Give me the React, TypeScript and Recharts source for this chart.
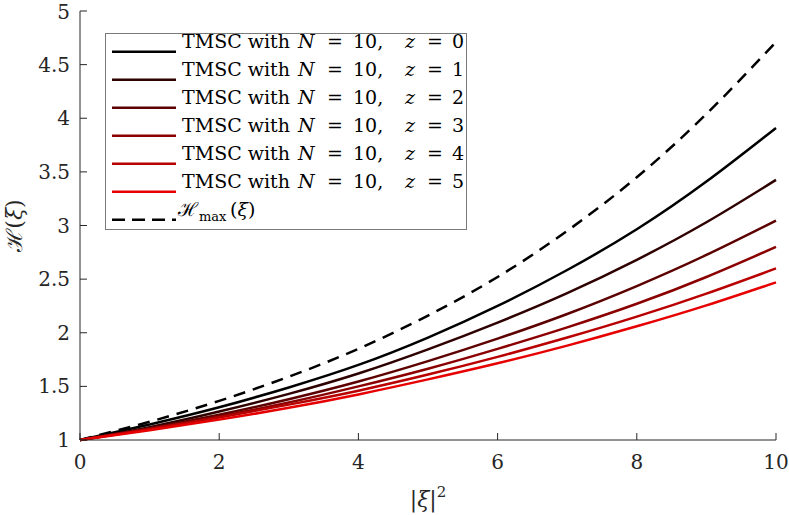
import React from "react";
import { LineChart, Line, XAxis, YAxis, Legend, Label } from "recharts";

// |xi|^2 sample points
const xi2 = [0, 1, 2, 3, 4, 5, 6, 7, 8, 9, 10];

// TMSC with N = 10, one curve per z
const hZ0 = [1, 1.145, 1.305, 1.49, 1.7, 1.955, 2.25, 2.585, 2.965, 3.41, 3.91];
const hZ1 = [1, 1.12, 1.265, 1.43, 1.62, 1.845, 2.095, 2.37, 2.68, 3.03, 3.425];
const hZ2 = [1, 1.11, 1.235, 1.38, 1.545, 1.735, 1.945, 2.175, 2.435, 2.725, 3.045];
const hZ3 = [1, 1.105, 1.22, 1.35, 1.5, 1.665, 1.85, 2.05, 2.27, 2.52, 2.8];
const hZ4 = [1, 1.1, 1.21, 1.33, 1.46, 1.61, 1.775, 1.955, 2.15, 2.365, 2.6];
const hZ5 = [1, 1.09, 1.19, 1.3, 1.425, 1.565, 1.715, 1.88, 2.06, 2.255, 2.47];

// upper bound
const hMax = [1, 1.17, 1.365, 1.59, 1.85, 2.16, 2.52, 2.95, 3.45, 4.04, 4.71];

const xTicks = [0, 2, 4, 6, 8, 10];
const yTicks = [1, 1.5, 2, 2.5, 3, 3.5, 4, 4.5, 5];

const zValues = [0, 1, 2, 3, 4, 5];
const zColors = ["#000000", "#2e0000", "#5c0000", "#8a0000", "#b80000", "#e60000"];
const curves = [hZ0, hZ1, hZ2, hZ3, hZ4, hZ5];

const rows = xi2.map((x, i) => {
  const row: Record<string, number> = { x, hmax: hMax[i] };
  curves.forEach((c, k) => {
    row[`z${k}`] = c[i];
  });
  return row;
});

const FONT = "DejaVu Serif";
const AX = "#262626";

function LegendBox() {
  return (
    <svg width={362} height={198} style={{ display: "block" }}>
      <rect x={0.5} y={0.5} width={361} height={196} fill="#fff" stroke="#7a7a7a" strokeWidth={1} />
      {zValues.map((z, i) => {
        const y = 18.7 + 28 * i;
        return (
          <g key={z}>
            <line x1={7} x2={71} y1={y} y2={y} stroke={zColors[i]} strokeWidth={2.5} />
            <text y={y - 3.4} fontFamily={FONT} fontSize={19} fill="#000">
              <tspan x={77}>TMSC with</tspan>
              <tspan x={193} fontStyle="italic">N</tspan>
              <tspan x={222}>=</tspan>
              <tspan x={248}>10,</tspan>
              <tspan x={300} fontStyle="italic">z</tspan>
              <tspan x={322}>=</tspan>
              <tspan x={347}>{z}</tspan>
            </text>
          </g>
        );
      })}
      <line x1={7} x2={71} y1={186.7} y2={186.7} stroke="#000" strokeWidth={2.5} strokeDasharray="13 7" />
      <text y={183.3} fontFamily={FONT} fontSize={19} fill="#000">
        <tspan x={73}>ℋ</tspan>
        <tspan x={94} dy={5} fontSize={13}>max</tspan>
        <tspan x={125} dy={-5}>(</tspan>
        <tspan fontStyle="italic">ξ</tspan>
        <tspan>)</tspan>
      </text>
    </svg>
  );
}

function YTitle(props: any) {
  const vb = props.viewBox;
  const cx = vb.x + 14;
  const cy = vb.y + vb.height / 2;
  return (
    <text
      x={cx}
      y={cy}
      transform={`rotate(-90 ${cx} ${cy})`}
      textAnchor="middle"
      dominantBaseline="central"
      fontFamily={FONT}
      fontSize={22}
      fill={AX}
    >
      ℋ(<tspan fontStyle="italic">ξ</tspan>)
    </text>
  );
}

function XTitle(props: any) {
  const vb = props.viewBox;
  return (
    <text x={vb.x + vb.width / 2} y={vb.y + 67} textAnchor="middle" fontFamily={FONT} fontSize={22} fill={AX}>
      |<tspan fontStyle="italic">ξ</tspan>|<tspan dy={-10} fontSize={15}>2</tspan>
    </text>
  );
}

export default function App() {
  const tickStyle = { fill: AX, fontSize: 20, fontFamily: FONT };
  return (
    <div style={{ position: "absolute", left: 0, top: 0, background: "#fff" }}>
      <LineChart width={789} height={515} data={rows} margin={{ top: 11, right: 13, bottom: 0, left: 0 }}>
        <XAxis
          dataKey="x"
          type="number"
          domain={[0, 10]}
          ticks={xTicks}
          height={75}
          tickSize={-7}
          tickMargin={22}
          stroke={AX}
          tick={tickStyle}
        >
          <Label content={XTitle} />
        </XAxis>
        <XAxis
          xAxisId="top"
          orientation="top"
          dataKey="x"
          type="number"
          domain={[0, 10]}
          ticks={xTicks}
          height={0}
          tickSize={-7}
          stroke={AX}
          tickFormatter={() => ""}
        />
        <YAxis
          type="number"
          domain={[1, 5]}
          ticks={yTicks}
          width={80}
          tickSize={-7}
          tickMargin={17}
          stroke={AX}
          tick={tickStyle}
        >
          <Label content={YTitle} />
        </YAxis>
        <YAxis
          yAxisId="right"
          orientation="right"
          type="number"
          domain={[1, 5]}
          ticks={yTicks}
          width={0}
          tickSize={-7}
          stroke={AX}
          tickFormatter={() => ""}
        />
        <Legend
          layout="vertical"
          align="center"
          verticalAlign="middle"
          content={() => <LegendBox />}
          wrapperStyle={{ left: 105, top: 33, width: "auto", height: "auto" }}
        />
        <Line
          dataKey="hmax"
          type="natural"
          stroke="#000"
          strokeWidth={2.5}
          strokeDasharray="12 8"
          dot={false}
          isAnimationActive={false}
        />
        {zValues.map((z, k) => (
          <Line
            key={z}
            dataKey={`z${k}`}
            type="natural"
            stroke={zColors[k]}
            strokeWidth={2.5}
            dot={false}
            isAnimationActive={false}
          />
        ))}
      </LineChart>
    </div>
  );
}
